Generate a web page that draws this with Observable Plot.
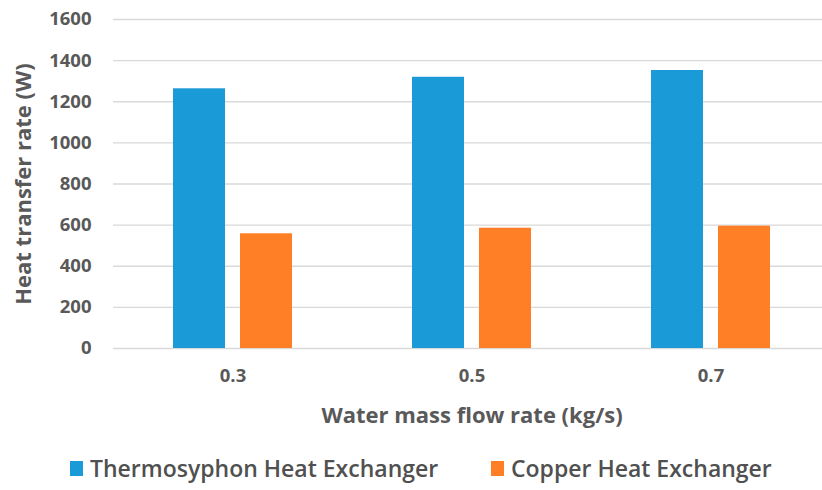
<!DOCTYPE html>
<html>
<head>
<meta charset="utf-8">
<script src="https://cdn.jsdelivr.net/npm/d3@7"></script>
<script src="https://cdn.jsdelivr.net/npm/@observablehq/plot@0.6"></script>
<style>
  html, body { margin: 0; padding: 0; background: #fff; }
  #chart { width: 822px; }
  #chart svg text { fill: #595959; }
  g[aria-label="y-axis label"] text, g[aria-label="fx-axis label"] text { font-size: 22px !important; font-weight: 700 !important; }
  g[aria-label="y-axis tick label"] text, g[aria-label="fx-axis tick label"] text { font-size: 18.5px !important; font-weight: 700 !important; }
  .legend { position: relative; height: 60px; font-family: "Open Sans", sans-serif; font-size: 23px; color: #505050; font-weight: 600; }
  .legend .item { display: flex; align-items: center; position: absolute; top: 22px; }
  .legend .sw { width: 13px; height: 15px; margin-right: 7px; }
</style>
</head>
<body>
<div id="chart"></div>
<script>
const categories = ["0.3", "0.5", "0.7"];
const series = ["Thermosyphon Heat Exchanger", "Copper Heat Exchanger"];
const thermosyphon = [1263, 1319, 1352];
const copper = [558, 585, 595];
const yTicks = [0, 200, 400, 600, 800, 1000, 1200, 1400, 1600];
const colors = ["#1B9AD8", "#FF7F27"];

const data = [];
categories.forEach((c, i) => {
  data.push({cat: c, series: series[0], value: thermosyphon[i]});
  data.push({cat: c, series: series[1], value: copper[i]});
});

const chart = Plot.plot({
  width: 822,
  height: 430,
  marginLeft: 112,
  marginRight: -8,
  marginTop: 19,
  marginBottom: 82,
  style: {fontFamily: "'Open Sans', sans-serif", color: "#595959", background: "#fff"},
  fx: {domain: categories, padding: 0},
  x: {domain: series, paddingInner: 0.22, paddingOuter: 0.88, axis: null},
  y: {domain: [0, 1600]},
  color: {domain: series, range: colors},
  marks: [
    Plot.gridY(yTicks, {stroke: "#d9d9d9", strokeOpacity: 1, strokeWidth: 1.3}),
    Plot.barY(data, {fx: "cat", x: "series", y: "value", fill: "series"}),
    Plot.axisY(yTicks, {tickSize: 0, tickPadding: 22, tickFormat: d => String(d), label: "Heat transfer rate (W)", labelAnchor: "center", labelOffset: 98, labelArrow: "none"}),
    Plot.axisFx({anchor: "bottom", tickSize: 0, tickPadding: 20, label: "Water mass flow rate (kg/s)", labelAnchor: "center", labelOffset: 74, labelArrow: "none"})
  ]
});
document.getElementById("chart").appendChild(chart);

const legend = document.createElement("div");
legend.className = "legend";
const lefts = [70, 491];
series.forEach((s, i) => {
  const item = document.createElement("div");
  item.className = "item";
  item.style.left = lefts[i] + "px";
  const sw = document.createElement("span");
  sw.className = "sw";
  sw.style.background = colors[i];
  const t = document.createElement("span");
  t.textContent = s;
  item.appendChild(sw);
  item.appendChild(t);
  legend.appendChild(item);
});
document.body.appendChild(legend);
</script>
</body>
</html>
